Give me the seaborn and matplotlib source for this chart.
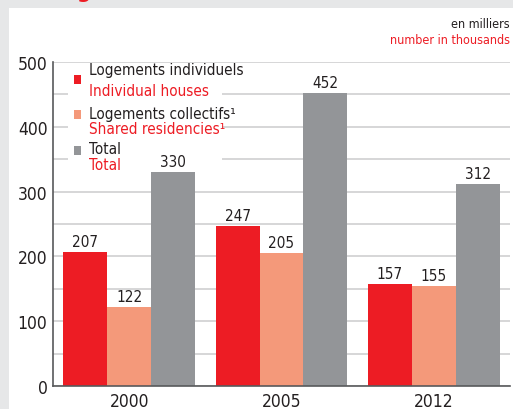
import pandas as pd
import numpy as np
import matplotlib.pyplot as plt
import seaborn as sns
from matplotlib.patches import Rectangle

years = ['2000', '2005', '2012']
individuels = [207, 247, 157]
collectifs = [122, 205, 155]
total = [330, 452, 312]
series = ['Individuels', 'Collectifs', 'Total']
colors = ['#ed1c24', '#f4997a', '#939598']

df = pd.DataFrame({
    'year': years * 3,
    'type': [s for s in series for _ in years],
    'value': individuels + collectifs + total,
})

sns.set_style('white')
plt.rcParams['font.family'] = ['DejaVu Sans']
plt.rcParams['font.stretch'] = 'condensed'

W, H = 513, 410
fig = plt.figure(figsize=(W / 100, H / 100), dpi=100, facecolor='#e6e7e8')


def px(x, y):
    return x / W, 1 - y / H


# white panel
fig.patches.append(Rectangle(px(9, 410), 1, 401 / H, transform=fig.transFigure,
                             facecolor='white', edgecolor='none', zorder=-5))

ax = fig.add_axes([53 / W, 1 - 387 / H, 457 / W, 324 / H])
ax.set_zorder(2)
ax.set_facecolor('white')

sns.barplot(data=df, x='year', y='value', hue='type', palette=colors,
            width=0.865, gap=0, saturation=1, legend=False, ax=ax, zorder=2,
            linewidth=0, edgecolor='none')

for c in ax.containers:
    ax.bar_label(c, padding=2, fontsize=11, color='#231f20', zorder=4)

ax.set_xlim(-0.5, 2.5)
ax.set_ylim(0, 500)
ax.set_yticks(np.arange(0, 501, 50))
ax.set_yticklabels([str(v) if v % 100 == 0 else '' for v in range(0, 501, 50)])
ax.yaxis.grid(True, color='#cbcccd', linewidth=1.1, zorder=0)
ax.set_axisbelow(True)
ax.tick_params(axis='y', length=0, pad=4, labelsize=12.5, labelcolor='#231f20')
ax.tick_params(axis='x', length=0, pad=4, labelsize=12.5, labelcolor='#231f20')
ax.set_xlabel('')
ax.set_ylabel('')
for s in ['top', 'right']:
    ax.spines[s].set_visible(False)
for s in ['left', 'bottom']:
    ax.spines[s].set_color('#58595b')
    ax.spines[s].set_linewidth(1.2)

# legend drawn by hand (two-language labels) on a white box hiding the grid
ax.add_patch(Rectangle(px(68, 173), 154 / W, 107 / H, transform=fig.transFigure,
                       facecolor='white', edgecolor='none', zorder=1.5))
legend_items = [
    (colors[0], 'Logements individuels', 'Individual houses', 76, 71, 92),
    (colors[1], 'Logements collectifs¹', 'Shared residencies¹', 111, 114, 130),
    (colors[2], 'Total', 'Total', 147, 149, 165),
]
for col, fr, en, sq_y, y1, y2 in legend_items:
    fig.patches.append(Rectangle(px(74, sq_y + 9), 7 / W, 9 / H,
                                 transform=fig.transFigure, facecolor=col,
                                 edgecolor='none', zorder=5))
    fig.text(*px(89, y1), fr, fontsize=11, color='#231f20', va='center', ha='left', zorder=6)
    fig.text(*px(89, y2), en, fontsize=11, color='#ed1c24', va='center', ha='left', zorder=6)

fig.text(*px(510, 24), 'en milliers', fontsize=9, color='#231f20', ha='right', va='center')
fig.text(*px(510, 41), 'number in thousands', fontsize=9, color='#ed1c24', ha='right', va='center')

# cut-off title fragment at top
fig.text(*px(76, -2), 'g', fontsize=16, fontweight='bold', color='#ed1c24',
         ha='left', va='baseline')

fig.savefig('out.png', dpi=100, facecolor=fig.get_facecolor())
